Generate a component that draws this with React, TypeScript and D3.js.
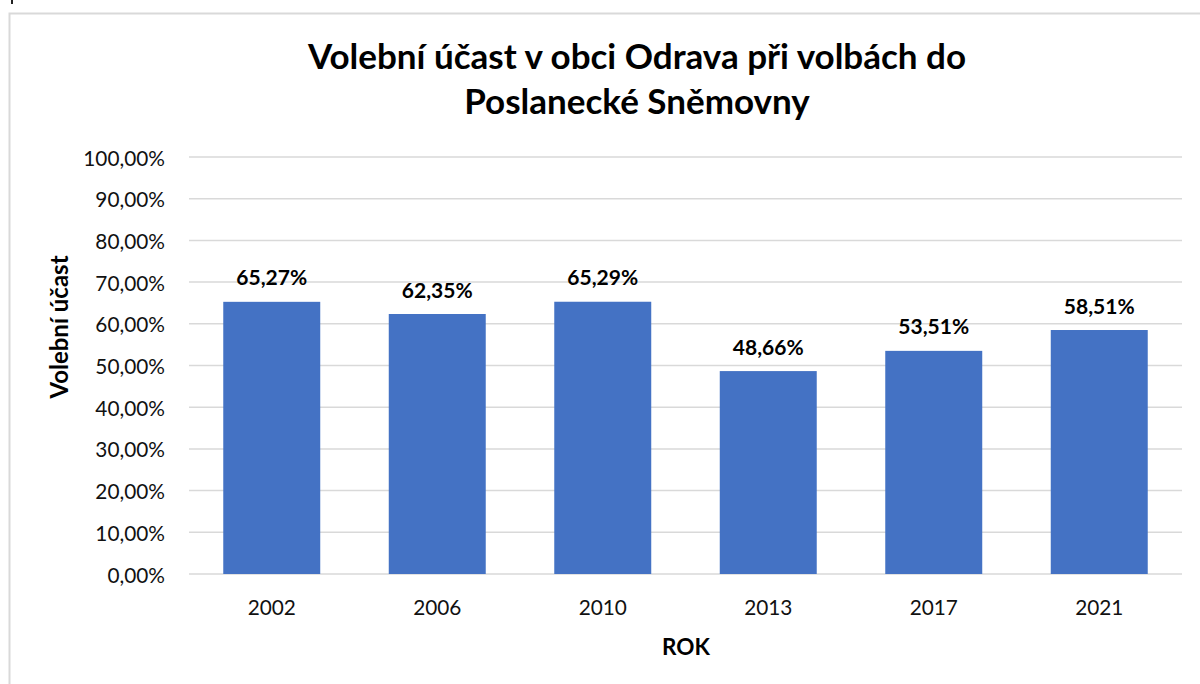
import React, { useEffect, useRef } from "react";
import * as d3 from "d3";

// data
const years = ["2002", "2006", "2010", "2013", "2017", "2021"];
const turnout = [65.27, 62.35, 65.29, 48.66, 53.51, 58.51];
const yTicks = [0, 10, 20, 30, 40, 50, 60, 70, 80, 90, 100];

const titleLines = ["Volební účast v obci Odrava při volbách do", "Poslanecké Sněmovny"];

const fmt = (v: number) => v.toFixed(2).replace(".", ",") + "%";

const App = () => {
    const ref = useRef<SVGSVGElement>(null);

    useEffect(() => {
        const svg = d3.select(ref.current);
        svg.selectAll("*").remove();

        const font = "Lato, 'Open Sans', sans-serif";
        const left = 189, right = 1182, top = 157, bottom = 574;

        const x = d3.scaleBand().domain(years).range([left, right]).paddingInner(0.414).paddingOuter(0.207);
        const y = d3.scaleLinear().domain([0, 100]).range([bottom, top]);

        // chart frame (cut off by the picture on the right and bottom)
        svg.append("rect")
            .attr("x", 9.5).attr("y", 13.5)
            .attr("width", 1300).attr("height", 800)
            .attr("fill", "white").attr("stroke", "#d9d9d9").attr("stroke-width", 2);

        svg.append("line")
            .attr("x1", 12).attr("x2", 12).attr("y1", 0).attr("y2", 4)
            .attr("stroke", "#222").attr("stroke-width", 2);

        // title
        svg.append("text")
            .attr("x", 637).attr("y", 55)
            .attr("text-anchor", "middle").attr("dominant-baseline", "central")
            .style("font-family", font).style("font-weight", "bold").style("font-size", "35px")
            .selectAll("tspan")
            .data(titleLines)
            .enter().append("tspan")
            .attr("x", 637).attr("dy", (d, i) => i === 0 ? 0 : 45)
            .text(d => d);

        // gridlines
        svg.append("g").selectAll("line")
            .data(yTicks)
            .enter().append("line")
            .attr("x1", left).attr("x2", right)
            .attr("y1", d => y(d)).attr("y2", d => y(d))
            .attr("stroke", "#d9d9d9").attr("stroke-width", 1.5);

        // y tick labels
        svg.append("g").selectAll("text")
            .data(yTicks)
            .enter().append("text")
            .attr("x", 165).attr("y", d => y(d))
            .attr("text-anchor", "end").attr("dominant-baseline", "central")
            .style("font-family", font).style("font-size", "20.8px").attr("fill", "#111")
            .text(d => fmt(d));

        // bars
        svg.append("g").selectAll("rect")
            .data(turnout)
            .enter().append("rect")
            .attr("x", (d, i) => x(years[i])!)
            .attr("y", d => y(d))
            .attr("width", x.bandwidth())
            .attr("height", d => bottom - y(d))
            .attr("fill", "#4472c4");

        // data labels
        svg.append("g").selectAll("text")
            .data(turnout)
            .enter().append("text")
            .attr("x", (d, i) => x(years[i])! + x.bandwidth() / 2)
            .attr("y", d => y(d) - 25)
            .attr("text-anchor", "middle").attr("dominant-baseline", "central")
            .style("font-family", font).style("font-weight", "bold").style("font-size", "21px")
            .text(d => fmt(d));

        // x labels
        svg.append("g").selectAll("text")
            .data(years)
            .enter().append("text")
            .attr("x", d => x(d)! + x.bandwidth() / 2)
            .attr("y", 606)
            .attr("text-anchor", "middle").attr("dominant-baseline", "central")
            .style("font-family", font).style("font-size", "20.8px").attr("fill", "#111")
            .text(d => d);

        // axis titles
        svg.append("text")
            .attr("x", 686).attr("y", 646)
            .attr("text-anchor", "middle").attr("dominant-baseline", "central")
            .style("font-family", font).style("font-weight", "bold").style("font-size", "22.5px")
            .text("ROK");

        svg.append("text")
            .attr("transform", "translate(58,327) rotate(-90)")
            .attr("text-anchor", "middle").attr("dominant-baseline", "central")
            .style("font-family", font).style("font-weight", "bold").style("font-size", "24px")
            .text("Volební účast");
    }, []);

    return (
        <svg ref={ref} width="1200" height="684"
            style={{ position: "absolute", left: 0, top: 0, background: "white" }}></svg>
    );
};

export default App;
